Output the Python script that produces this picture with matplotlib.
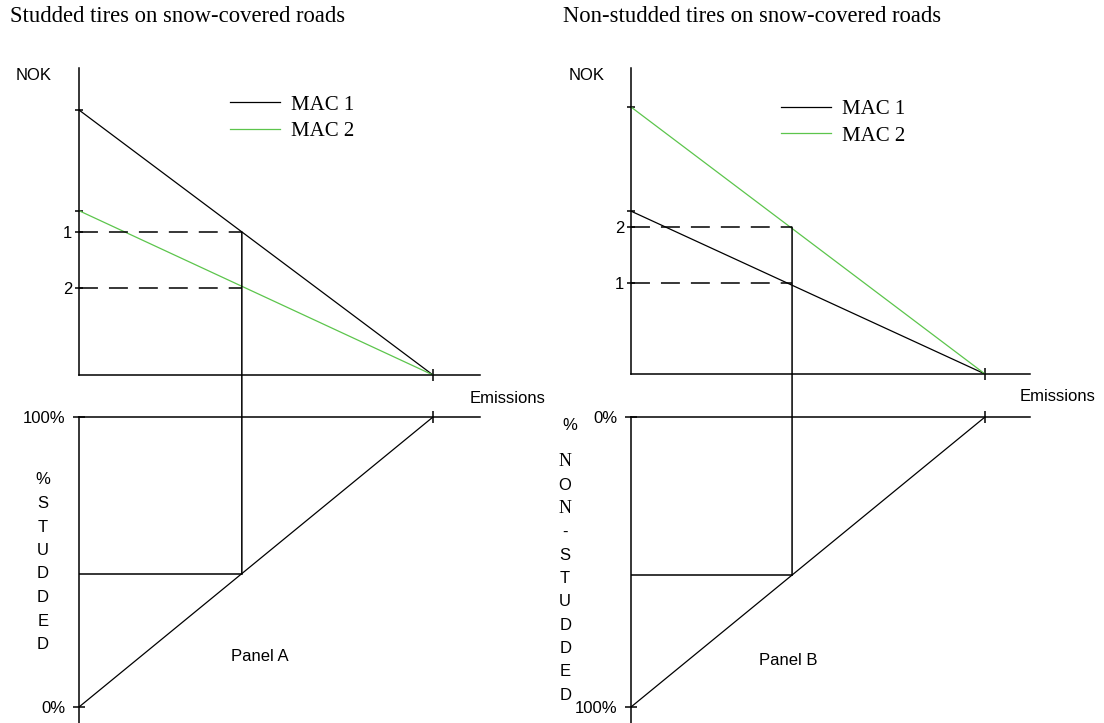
import matplotlib
matplotlib.use("Agg")
import matplotlib.pyplot as plt
from matplotlib.patches import ConnectionPatch

# emissions axis: 0 = no emissions, 1 = unregulated level
emissions = [0, 1]

# Panel A: studded tires
macA1 = [1.0, 0.0]
macA2 = [0.62, 0.0]
eA = 0.46                      # chosen emission level
priceA = [0.54, 0.33]          # levels marked "1" and "2"
priceA_labels = ["1", "2"]
shareA = [0.0, 1.0]            # % studded along emissions
shareA_at_e = 0.46

# Panel B: non-studded tires
macB1 = [0.61, 0.0]
macB2 = [1.0, 0.0]
eB = 0.455
priceB = [0.55, 0.34]          # levels marked "2" and "1"
priceB_labels = ["2", "1"]
shareB = [1.0, 0.0]            # % non-studded along emissions
shareB_at_e = 0.545

titles = ["Studded tires on snow-covered roads", "Non-studded tires on snow-covered roads"]
panel_names = ["Panel A", "Panel B"]

SANS = "Liberation Sans"
SERIF = "Liberation Serif"
GREEN = "#5cc54c"
LW = 1.1

fig = plt.figure(figsize=(11.04, 7.23), dpi=100)
W, H = 1104, 723


def make_axes(left_px, top_px, bot_px, right_px):
    return fig.add_axes([left_px / W, 1 - bot_px / H, (right_px - left_px) / W, (bot_px - top_px) / H])


def style_top(ax, xmax, ymax):
    ax.set_xlim(0, xmax)
    ax.set_ylim(0, ymax)
    for s in ["top", "right"]:
        ax.spines[s].set_visible(False)
    for s in ["left", "bottom"]:
        ax.spines[s].set_linewidth(LW)
    ax.set_xticks([1])
    ax.set_xticklabels([""])
    ax.tick_params(axis="x", direction="inout", length=8, width=LW)
    ax.patch.set_visible(False)


def style_bottom(ax, xmax, ylo, yhi):
    ax.set_xlim(0, xmax)
    ax.set_ylim(ylo, yhi)
    for s in ["bottom", "right"]:
        ax.spines[s].set_visible(False)
    for s in ["left", "top"]:
        ax.spines[s].set_linewidth(LW)
    ax.xaxis.tick_top()
    ax.set_xticks([1])
    ax.set_xticklabels([""])
    ax.tick_params(axis="x", direction="inout", length=8, width=LW)
    ax.patch.set_visible(False)


def draw_panel(ax_t, ax_b, mac1, mac2, e, prices, plabels, share, share_e,
               ytick_lo_label, ytick_hi_label, leg_y):
    l1, = ax_t.plot(emissions, mac1, color="black", lw=0.9, label="MAC 1")
    l2, = ax_t.plot(emissions, mac2, color=GREEN, lw=0.9, label="MAC 2")
    for p in prices:
        ax_t.plot([0, e], [p, p], color="black", lw=1.1, dashes=(12.4, 7.2))
    ax_t.set_yticks([mac1[0], mac2[0]] + prices)
    ax_t.set_yticklabels(["", ""] + plabels, family=SANS, fontsize=12)
    ax_t.tick_params(axis="y", direction="inout", length=6, width=LW, pad=2)
    ax_t.legend(handles=[l1, l2], loc="upper left", bbox_to_anchor=(0.377, leg_y),
                frameon=False, prop={"family": SERIF, "size": 15},
                handlelength=2.4, handletextpad=0.5, labelspacing=0.33,
                borderpad=0, borderaxespad=0)

    ax_b.plot(emissions, share, color="black", lw=0.9)
    ax_b.plot([0, e], [share_e, share_e], color="black", lw=LW)
    ax_b.set_yticks([0, 1])
    ax_b.set_yticklabels([ytick_lo_label, ytick_hi_label], family=SANS, fontsize=12)
    ax_b.tick_params(axis="y", direction="inout", length=8, width=LW, pad=6)

    con = ConnectionPatch(xyA=(e, max(prices)), coordsA=ax_t.transData,
                          xyB=(e, share_e), coordsB=ax_b.transData,
                          color="black", lw=LW)
    fig.add_artist(con)

    ax_t.text(-0.112, 0.977, "NOK", transform=ax_t.transAxes, family=SANS,
              fontsize=12, ha="center", va="center")
    ax_t.text(0.975, -0.075, "Emissions", transform=ax_t.transAxes, family=SANS,
              fontsize=12, ha="left", va="center")


# Panel A
axA_t = make_axes(79, 68, 375, 480)
axA_b = make_axes(79, 417, 723, 480)
style_top(axA_t, 401 / 354, 307 / 265)
style_bottom(axA_b, 401 / 354, -16 / 290, 1.0)
draw_panel(axA_t, axA_b, macA1, macA2, eA, priceA, priceA_labels, shareA, shareA_at_e,
           "0%", "100%", 0.912)

# Panel B
axB_t = make_axes(631, 68, 374, 1030)
axB_b = make_axes(631, 417, 723, 1030)
style_top(axB_t, 399 / 354, 306 / 267)
style_bottom(axB_b, 399 / 354, 1 + 16 / 290, 0.0)
draw_panel(axB_t, axB_b, macB1, macB2, eB, priceB, priceB_labels, shareB, shareB_at_e,
           "0%", "100%", 0.897)

# titles
fig.text(10 / W, 1 - 17 / H, titles[0], family=SERIF, fontsize=16.3, ha="left", va="center")
fig.text(563 / W, 1 - 17 / H, titles[1], family=SERIF, fontsize=16.3, ha="left", va="center")

# panel names
axA_b.text(0.451, 0.216, panel_names[0], transform=axA_b.transAxes, family=SANS,
           fontsize=12, ha="center", va="center")
axB_b.text(0.393, 0.203, panel_names[1], transform=axB_b.transAxes, family=SANS,
           fontsize=12, ha="center", va="center")

# stacked vertical axis captions
for i, ch in enumerate("%STUDDED"):
    axA_b.text(-0.09, (723 - (480 + 23.5 * i)) / 306, ch, transform=axA_b.transAxes,
               family=SANS, fontsize=12, ha="center", va="center")

axB_b.text(-0.153, (723 - 425) / 306, "%", transform=axB_b.transAxes,
           family=SANS, fontsize=12, ha="center", va="center")
for i, ch in enumerate("NON-STUDDED"):
    fam = SERIF if ch == "N" else SANS
    axB_b.text(-0.165, (723 - (462 + 23.3 * i)) / 306, ch, transform=axB_b.transAxes,
               family=fam, fontsize=13 if ch == "N" else 12, ha="center", va="center")

fig.savefig("out.png", dpi=100)
